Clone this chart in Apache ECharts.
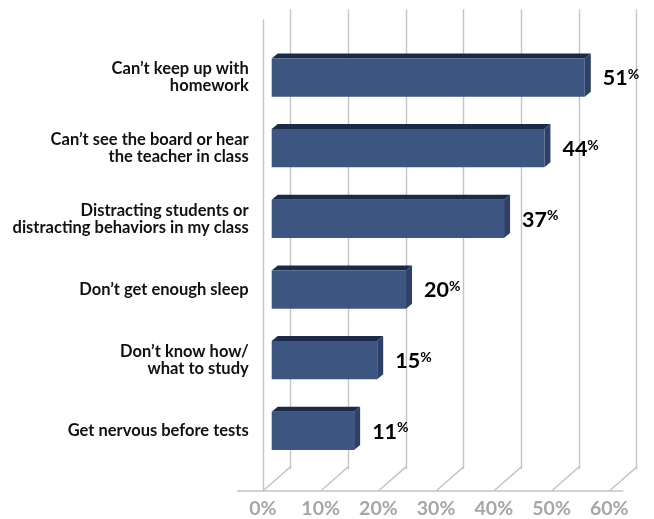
<!DOCTYPE html>
<html>
<head>
<meta charset="utf-8">
<script src="https://cdn.jsdelivr.net/npm/echarts@6/dist/echarts.min.js"></script>
<style>
  html, body { margin: 0; padding: 0; background: #fff; }
  #chart { width: 654px; height: 519px; }
</style>
</head>
<body>
<div id="chart"></div>
<script>
// Reasons students give for struggling in school (share of respondents)
const categories = [
  "Can’t keep up with\nhomework",
  "Can’t see the board or hear\nthe teacher in class",
  "Distracting students or\ndistracting behaviors in my class",
  "Don’t get enough sleep",
  "Don’t know how/\nwhat to study",
  "Get nervous before tests"
];
const values = [51, 44, 37, 20, 15, 11];
const tickValues = [0, 10, 20, 30, 40, 50, 60];
const axisMin = 0;
const axisMax = 60;
const axisStep = 10;

const FONT = 'Lato, "Noto Sans", sans-serif';
// 3D look: offset from the front floor edge to the back wall
const WALL_DX = 27.8, WALL_DY = -24.4;
// bar depth (top / side faces)
const BAR_DX = 6, BAR_DY = -5;
const BAR_LEFT_INSET = 19;   // bars start at the left wall, slightly left of zero

const chart = echarts.init(document.getElementById('chart'), null, { renderer: 'canvas' });

const valueAxisBase = { type: 'value', min: axisMin, max: axisMax, interval: axisStep,
  axisLine: { show: false }, axisTick: { show: false }, splitLine: { show: false }, axisLabel: { show: false } };

chart.setOption({
  backgroundColor: '#ffffff',
  animation: false,
  grid: [
    // back wall
    { left: 290.7, right: 17.3, top: 9.3, bottom: 49.7 },
    // front floor edge
    { left: 262.9, right: 44.7, top: 20, bottom: 25.3 },
    // bar plane
    { left: 290.7, right: 17.3, top: 42.2, bottom: 52.8 }
  ],
  xAxis: [
    Object.assign({}, valueAxisBase, { gridIndex: 0,
      splitLine: { show: true, lineStyle: { color: '#c4c4c4', width: 1.4 } } }),
    Object.assign({}, valueAxisBase, { gridIndex: 1,
      axisLabel: { show: true, formatter: '{value}%', color: '#a6a6a6', fontSize: 19.5,
        fontWeight: 'bold', fontFamily: FONT, margin: 8 } }),
    Object.assign({}, valueAxisBase, { gridIndex: 2 })
  ],
  yAxis: [
    { type: 'value', gridIndex: 0, show: false, min: 0, max: 1 },
    { type: 'value', gridIndex: 1, min: 0, max: 1,
      axisLine: { show: true, lineStyle: { color: '#c4c4c4', width: 1.4 } },
      axisTick: { show: false }, splitLine: { show: false }, axisLabel: { show: false } },
    { type: 'category', gridIndex: 2, data: categories, inverse: true,
      axisLine: { show: false }, axisTick: { show: false },
      axisLabel: { margin: 42, color: '#111111', fontSize: 16.5, fontWeight: 'bold',
        fontFamily: FONT, lineHeight: 17, align: 'right' } }
  ],
  series: [
    {
      // floor: diagonal lines joining front ticks to back gridlines
      type: 'custom', name: 'floor', xAxisIndex: 1, yAxisIndex: 1,
      data: tickValues.map(v => [v]),
      silent: true,
      renderItem: function (params, api) {
        const p = api.coord([api.value(0), 0]);
        return { type: 'line', shape: { x1: p[0], y1: p[1], x2: p[0] + WALL_DX, y2: p[1] + WALL_DY },
          style: { stroke: '#c4c4c4', lineWidth: 1.4 } };
      }
    },
    {
      // floor front edge
      type: 'custom', name: 'floorEdge', xAxisIndex: 1, yAxisIndex: 1,
      data: [[axisMin, axisMax]],
      silent: true,
      renderItem: function (params, api) {
        const a = api.coord([api.value(0), 0]);
        const b = api.coord([api.value(1), 0]);
        return { type: 'line', shape: { x1: a[0] - 26, y1: a[1], x2: b[0] + 14, y2: b[1] },
          style: { stroke: '#c4c4c4', lineWidth: 1.4 } };
      }
    },
    {
      type: 'custom', name: 'share', xAxisIndex: 2, yAxisIndex: 2,
      data: values.map((v, i) => [v, i]),
      renderItem: function (params, api) {
        const v = api.value(0);
        const end = api.coord([v, api.value(1)]);
        const zero = api.coord([0, api.value(1)]);
        const band = api.size([0, 1])[1];
        const h = band * 0.542;
        const x0 = zero[0] - BAR_LEFT_INSET;
        const x1 = end[0];
        const top = end[1] - h / 2, bot = end[1] + h / 2;
        return {
          type: 'group',
          children: [
            { type: 'polygon', shape: { points: [[x0, top], [x0 + BAR_DX, top + BAR_DY], [x1 + BAR_DX, top + BAR_DY], [x1, top]] },
              style: { fill: '#1c2a4a' } },
            { type: 'polygon', shape: { points: [[x1, top], [x1 + BAR_DX, top + BAR_DY], [x1 + BAR_DX, bot + BAR_DY], [x1, bot]] },
              style: { fill: '#2d4068' } },
            { type: 'rect', shape: { x: x0, y: top, width: x1 - x0, height: h },
              style: { fill: '#3d5581' } },
            { type: 'text', x: x1 + BAR_DX + 12, y: end[1] + 1,
              style: {
                text: '{v|' + v + '}{p|%}',
                verticalAlign: 'middle', align: 'left',
                rich: {
                  v: { fontSize: 21.5, fontWeight: 'bold', fontFamily: FONT, fill: '#000', lineHeight: 22 },
                  p: { fontSize: 14, fontWeight: 'bold', fontFamily: FONT, fill: '#000', lineHeight: 22, verticalAlign: 'top' }
                }
              } }
          ]
        };
      }
    }
  ]
});
</script>
</body>
</html>
